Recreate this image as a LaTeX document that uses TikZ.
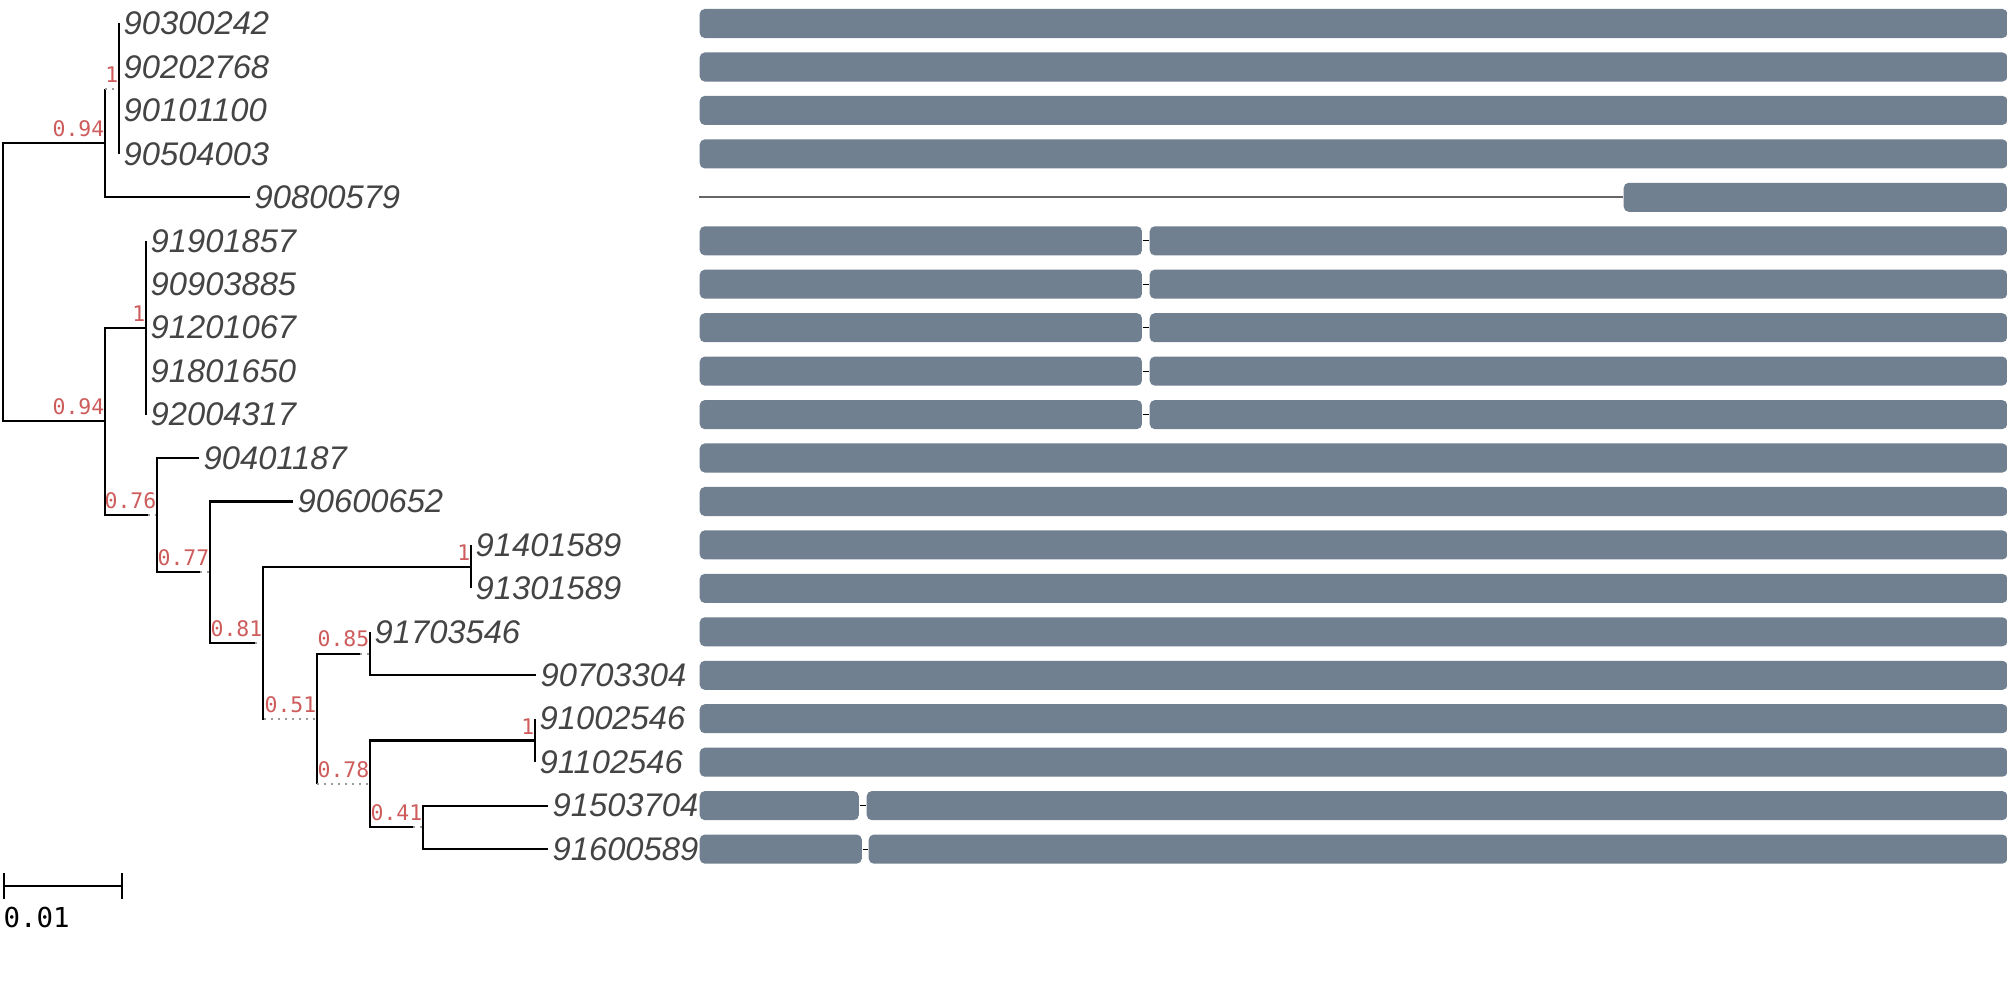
\documentclass[tikz,border=0pt]{standalone}
\usepackage{fontspec}
\setmainfont{Liberation Sans}
\newfontfamily\supfont{DejaVu Sans Mono}
\usetikzlibrary{arrows.meta}
\definecolor{slate}{HTML}{708090}
\definecolor{tipgray}{HTML}{444444}
\definecolor{supred}{HTML}{CD5C5C}
\definecolor{extgray}{HTML}{9A9A9A}

\begin{document}
\begin{tikzpicture}[x=0.01cm, y=-0.01cm,
  br/.style={line width=0.6pt, black},
  ext/.style={line width=0.6pt, extgray, dash pattern=on 0.6pt off 1.4pt},
  tip/.style={anchor=west, inner xsep=0.04cm, inner ysep=0pt, text=tipgray,
              font=\itshape\fontsize{9.3}{11}\selectfont},
  sup/.style={anchor=south east, inner sep=0pt, yshift=1.6pt, text=supred,
              font=\supfont\fontsize{6.1}{7}\selectfont},
  seg/.style={fill=slate, rounded corners=0.05cm, inner sep=0pt,
              minimum height=0.29cm, minimum width=#1, anchor=west},
  link/.style={line width=0.3pt, black},
  gapline/.style={line width=0.5pt, black!60}
]
\useasboundingbox (0,0) rectangle (2007,994);

\coordinate (r)    at (3,282.2);
\coordinate (nA)   at (105,143);
\coordinate (nA1)  at (119,88.7);
\coordinate (nA1s) at (105,88.7);
\coordinate (nB)   at (105,421.4);
\coordinate (nB1)  at (146,327.7);
\coordinate (nB2)  at (157,515.1);
\coordinate (nB2s) at (148,515.1);
\coordinate (nC)   at (210,572.1);
\coordinate (nCs)  at (200,572.1);
\coordinate (nD)   at (263,642.7);
\coordinate (nDs)  at (255,642.7);
\coordinate (nE)   at (471,566.7);
\coordinate (nF)   at (317,718.7);
\coordinate (nFs)  at (264,718.7);
\coordinate (nG)   at (370,653.6);
\coordinate (nGs)  at (360,653.6);
\coordinate (nH)   at (370,783.9);
\coordinate (nHs)  at (317,783.9);
\coordinate (nI)   at (535,740.5);
\coordinate (nJ)   at (423,827.4);
\coordinate (nJs)  at (413,827.4);

\node[tip] (t0)  at (119,23.5)  {90300242};
\node[tip] (t1)  at (119,67)    {90202768};
\node[tip] (t2)  at (119,110.4) {90101100};
\node[tip] (t3)  at (119,153.9) {90504003};
\node[tip] (t4)  at (250,197.3) {90800579};
\node[tip] (t5)  at (146,240.8) {91901857};
\node[tip] (t6)  at (146,284.2) {90903885};
\node[tip] (t7)  at (146,327.7) {91201067};
\node[tip] (t8)  at (146,371.1) {91801650};
\node[tip] (t9)  at (146,414.6) {92004317};
\node[tip] (t10) at (199,458)   {90401187};
\node[tip] (t11) at (293,501.5) {90600652};
\node[tip] (t12) at (471,544.9) {91401589};
\node[tip] (t13) at (471,588.4) {91301589};
\node[tip] (t14) at (370,631.8) {91703546};
\node[tip] (t15) at (536,675.3) {90703304};
\node[tip] (t16) at (535,718.7) {91002546};
\node[tip] (t17) at (535,762.2) {91102546};
\node[tip] (t18) at (548,805.6) {91503704};
\node[tip] (t19) at (548,849.1) {91600589};

\draw[br] (r) |- (nA);
\draw[br] (r) |- (nB);
\draw[br] (nA) |- (nA1s);
\draw[ext] (nA1s) -- (nA1);
\draw[br] (nA) |- (t4.west);
\draw[br] (nA1) |- (t0.west) (nA1) |- (t1.west) (nA1) |- (t2.west) (nA1) |- (t3.west);
\draw[br] (nB) |- (nB1);
\draw[br] (nB) |- (nB2s);
\draw[ext] (nB2s) -- (nB2);
\draw[br] (nB1) |- (t5.west) (nB1) |- (t6.west) (nB1) |- (t7.west) (nB1) |- (t8.west) (nB1) |- (t9.west);
\draw[br] (nB2) |- (t10.west);
\draw[br] (nB2) |- (nCs);
\draw[ext] (nCs) -- (nC);
\draw[br] (nC) |- (t11.west);
\draw[br] (nC) |- (nDs);
\draw[ext] (nDs) -- (nD);
\draw[br] (nD) |- (nE);
\draw[br] (nD) |- (nFs);
\draw[ext] (nFs) -- (nF);
\draw[br] (nE) |- (t12.west) (nE) |- (t13.west);
\draw[br] (nF) |- (nGs);
\draw[ext] (nGs) -- (nG);
\draw[br] (nF) |- (nHs);
\draw[ext] (nHs) -- (nH);
\draw[br] (nG) |- (t14.west) (nG) |- (t15.west);
\draw[br] (nH) |- (nI);
\draw[br] (nH) |- (nJs);
\draw[ext] (nJs) -- (nJ);
\draw[br] (nI) |- (t16.west) (nI) |- (t17.west);
\draw[br] (nJ) |- (t18.west) (nJ) |- (t19.west);

\node[sup] (sA)  at (nA)  {0.94};
\node[sup] (sA1) at (nA1) {1};
\node[sup] (sB)  at (nB)  {0.94};
\node[sup] (sB1) at (nB1) {1};
\node[sup] (sB2) at (nB2) {0.76};
\node[sup] (sC)  at (nC)  {0.77};
\node[sup] (sD)  at (nD)  {0.81};
\node[sup] (sE)  at (nE)  {1};
\node[sup] (sF)  at (nF)  {0.51};
\node[sup] (sG)  at (nG)  {0.85};
\node[sup] (sH)  at (nH)  {0.78};
\node[sup] (sI)  at (nI)  {1};
\node[sup] (sJ)  at (nJ)  {0.41};

\coordinate (sbL) at (3,886);
\coordinate (sbR) at (123,886);
\draw[br, {Bar[width=7.4pt]}-{Bar[width=7.4pt]}] (sbL) -- (sbR);
\node[anchor=north west, inner sep=0pt, font=\supfont\fontsize{7.8}{9}\selectfont] (sbT) at (3,906) {0.01};

\node[seg=13.07cm] (b0)  at (699,23.5)  {};
\node[seg=13.07cm] (b1)  at (699,67)    {};
\node[seg=13.07cm] (b2)  at (699,110.4) {};
\node[seg=13.07cm] (b3)  at (699,153.9) {};
\coordinate (l4) at (699,197.3);
\node[seg=3.83cm]  (b4)  at (1623,197.3) {};
\draw[gapline] (l4) -- (b4.west);
\node[seg=4.42cm]  (b5a) at (699,240.8)  {};
\node[seg=8.57cm]  (b5b) at (1149,240.8) {};
\node[seg=4.42cm]  (b6a) at (699,284.2)  {};
\node[seg=8.57cm]  (b6b) at (1149,284.2) {};
\node[seg=4.42cm]  (b7a) at (699,327.7)  {};
\node[seg=8.57cm]  (b7b) at (1149,327.7) {};
\node[seg=4.42cm]  (b8a) at (699,371.1)  {};
\node[seg=8.57cm]  (b8b) at (1149,371.1) {};
\node[seg=4.42cm]  (b9a) at (699,414.6)  {};
\node[seg=8.57cm]  (b9b) at (1149,414.6) {};
\draw[link] (b5a) -- (b5b) (b6a) -- (b6b) (b7a) -- (b7b) (b8a) -- (b8b) (b9a) -- (b9b);
\node[seg=13.07cm] (b10) at (699,458)   {};
\node[seg=13.07cm] (b11) at (699,501.5) {};
\node[seg=13.07cm] (b12) at (699,544.9) {};
\node[seg=13.07cm] (b13) at (699,588.4) {};
\node[seg=13.07cm] (b14) at (699,631.8) {};
\node[seg=13.07cm] (b15) at (699,675.3) {};
\node[seg=13.07cm] (b16) at (699,718.7) {};
\node[seg=13.07cm] (b17) at (699,762.2) {};
\node[seg=1.59cm]  (b18a) at (699,805.6) {};
\node[seg=11.40cm] (b18b) at (866,805.6) {};
\node[seg=1.62cm]  (b19a) at (699,849.1) {};
\node[seg=11.38cm] (b19b) at (868,849.1) {};
\draw[link] (b18a) -- (b18b) (b19a) -- (b19b);
\end{tikzpicture}
\end{document}
